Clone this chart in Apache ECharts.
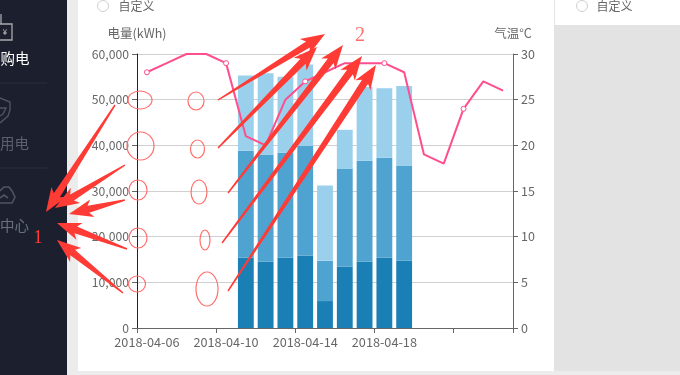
<!DOCTYPE html>
<html><head><meta charset="utf-8">
<style>html,body{margin:0;padding:0;background:#fff}#c{width:680px;height:375px}</style>
<script src="https://cdn.jsdelivr.net/npm/echarts@6/dist/echarts.min.js"></script>
</head><body><div id="c"></div>
<script>
const categories=['2018-04-06','2018-04-07','2018-04-08','2018-04-09','2018-04-10','2018-04-11','2018-04-12','2018-04-13','2018-04-14','2018-04-15','2018-04-16','2018-04-17','2018-04-18','2018-04-19','2018-04-20','2018-04-21','2018-04-22','2018-04-23','2018-04-24'];
const peak=[null,null,null,null,null,15400,14500,15400,15900,5900,13400,14500,15400,14700,null,null,null,null,null];
const flat=[null,null,null,null,null,23400,23500,23000,24000,8800,21500,22100,21900,20900,null,null,null,null,null];
const valley=[null,null,null,null,null,16500,17800,16600,17800,16500,8500,16200,15200,17400,null,null,null,null,null];
const temperature=[28,29,30,30,29,21,20,25,27,28,29,29,29,28,19,18,24,27,26];
const font='"Noto Sans CJK SC","Open Sans",sans-serif';
const red='#ff3b36', ring='#ff6f6d';
const ellipses=[[140,100,12,9],[140.5,146,13.5,14],[138,190,9,10],[138,238,9,10],[137,284,8.5,8],[196,101,8,9],[197.5,149,7,9],[199,192,8,12],[205,240,5,10],[207,289,11,17]];
const arrows=[[115,105,46,212],[125,165,55,208],[125,200,69,214],[127,249,57,223],[123,293,57,240],[218,100,325,34],[218,148,317,47],[228,193,343,45],[222,243,362,56],[228,291,376,65]];
function arrow(a){
  const dx=a[2]-a[0],dy=a[3]-a[1],l=Math.hypot(dx,dy),ux=dx/l,uy=dy/l,nx=-uy,ny=ux;
  const p=(d,w)=>[a[0]+ux*d+nx*w,a[1]+uy*d+ny*w];
  return {type:'polygon',z:100,silent:true,shape:{points:[p(0,-0.7),p(0,0.7),p(l-20,3.6),p(l-24,9),[a[2],a[3]],p(l-24,-9),p(l-20,-3.6)]},style:{fill:red}};
}
const rect=(x,y,w,h,c)=>({type:'rect',z:-10,silent:true,shape:{x,y,width:w,height:h},style:{fill:c}});
const txt=(x,y,t,c,s,ff,z)=>({type:'text',z:z||100,silent:true,x,y,style:{text:t,fill:c,font:s+'px '+(ff||font),textAlign:'center',textVerticalAlign:'middle'}});
const radio=(x,y)=>({type:'circle',z:5,silent:true,shape:{cx:x,cy:y,r:5.5},style:{fill:'#fff',stroke:'#d0d0d0',lineWidth:1}});
const stroke=(pts,c,w)=>({type:'polyline',z:5,silent:true,shape:{points:pts},style:{fill:'none',stroke:c,lineWidth:w}});
const graphics=[
  rect(0,0,680,375,'#ececec'),
  rect(0,0,67,375,'#1c202e'),
  rect(78,0,476,371,'#ffffff'),
  rect(554,0,126,371,'#e3e3e3'),
  rect(555,0,125,25,'#ffffff'),
  radio(103,6),radio(582,6),
  txt(136.5,6,'自定义','#666',12,null,5),txt(614.5,6,'自定义','#666',12,null,5),
  txt(15,58,'购电','#ffffff',14.5,null,5),txt(14.5,143,'用电','#5b6070',14.5,null,5),txt(14.5,225,'中心','#6a7080',14.5,null,5),
  {type:'line',z:5,silent:true,shape:{x1:0,y1:83,x2:47,y2:83},style:{stroke:'#2b2f3d'}},
  {type:'line',z:5,silent:true,shape:{x1:0,y1:168,x2:47,y2:168},style:{stroke:'#2b2f3d'}},
  stroke([[0,24],[12,24],[12,40],[0,40]],'#a8a8ae',1.3),
  stroke([[1,14],[1,24]],'#a8a8ae',1.3),
  txt(5,32,'¥','#c8c8cc',8,null,5),
  stroke([[0,98],[10,102],[10,110],[8,116],[0,123]],'#50545f',1.4),
  stroke([[0,108],[6,108],[3,114],[0,116]],'#50545f',1.4),
  stroke([[0,191],[4,187],[9,187],[12,191],[15,197],[12,203],[0,203]],'#50545f',1.6),
  stroke([[0,198],[4,195],[8,198]],'#50545f',1.6),
  txt(38,238,'1',red,18,'"Liberation Serif",serif'),
  txt(360,36,'2',ring,20,'"Liberation Serif",serif'),
  ...ellipses.map(e=>({type:'ellipse',z:100,silent:true,shape:{cx:e[0],cy:e[1],rx:e[2],ry:e[3]},style:{fill:'none',stroke:ring,lineWidth:1.2}})),
  ...arrows.map(arrow)
];
const barSeries=(name,data,color)=>({name,type:'bar',stack:'e',data,barWidth:'80%',itemStyle:{color}});
const chart=echarts.init(document.getElementById('c'),null,{renderer:'canvas'});
chart.setOption({
  animation:false,
  textStyle:{fontFamily:font},
  grid:{left:137,right:167,top:54,bottom:47},
  graphic:{elements:graphics},
  xAxis:{type:'category',data:categories,
    axisLine:{lineStyle:{color:'#666'}},axisTick:{show:true,interval:3,length:5,lineStyle:{color:'#666'}},
    axisLabel:{interval:3,color:'#666',fontSize:12.7,margin:8,showMaxLabel:false}},
  yAxis:[
    {type:'value',name:'电量(kWh)',min:0,max:60000,interval:10000,nameGap:14,nameTextStyle:{color:'#666',fontSize:12.5},
     axisLine:{show:true,lineStyle:{color:'#222'}},axisTick:{show:true,length:5,lineStyle:{color:'#666'}},
     axisLabel:{color:'#666',fontSize:12.2,margin:8,formatter:v=>v.toLocaleString('en-US')},
     splitLine:{lineStyle:{color:'#d0d0d0'}}},
    {type:'value',name:'气温°C',min:0,max:30,interval:5,nameGap:14,nameTextStyle:{color:'#666',fontSize:12.5},
     axisLine:{show:true,lineStyle:{color:'#666'}},axisTick:{show:true,length:5,lineStyle:{color:'#666'}},
     axisLabel:{color:'#666',fontSize:12.5,margin:8},splitLine:{show:false}}
  ],
  series:[
    barSeries('峰',peak,'#1a7fb5'),
    barSeries('平',flat,'#4fa3d1'),
    barSeries('谷',valley,'#9ad0ec'),
    {name:'气温',type:'line',yAxisIndex:1,data:temperature,showAllSymbol:true,z:5,
     symbol:(v,p)=>p.dataIndex%4===0?'circle':'none',symbolSize:5,
     lineStyle:{color:'#ff4d8d',width:2},itemStyle:{color:'#fff',borderColor:'#ff4d8d',borderWidth:1}}
  ]
});
</script></body></html>
